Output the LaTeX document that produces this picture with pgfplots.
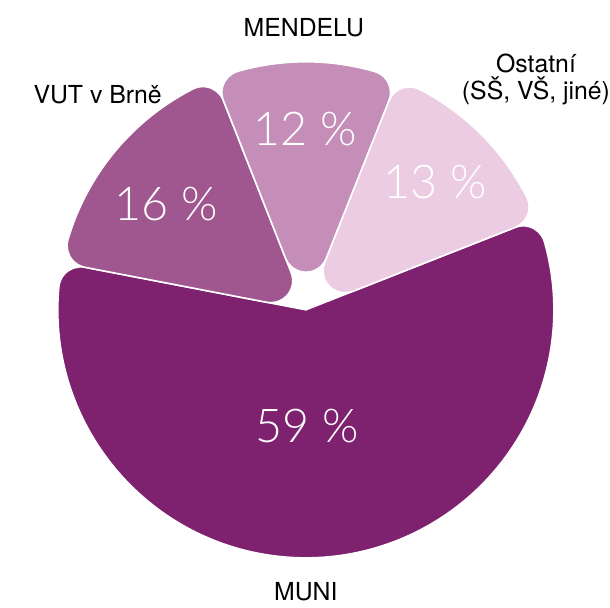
\documentclass[border=0pt]{standalone}
\usepackage{pgfplots}
\usepackage{pgfplotstable}
\pgfplotsset{compat=1.18}
\usepackage{fontspec}
\setmainfont{TeX Gyre Heros}
\newfontfamily\pctfont{Lato Light}

\definecolor{cMUNI}{HTML}{7E2270}
\definecolor{cVUT}{HTML}{A0578F}
\definecolor{cMEN}{HTML}{C48EB9}
\definecolor{cOST}{HTML}{ECCCE2}

\pgfplotstableread{
name value
Ostatni 13
MENDELU 12
VUT 16
MUNI 59
}\piedata

\pgfplotstablegetelem{0}{value}\of\piedata \let\vOST\pgfplotsretval
\pgfplotstablegetelem{1}{value}\of\piedata \let\vMEN\pgfplotsretval
\pgfplotstablegetelem{2}{value}\of\piedata \let\vVUT\pgfplotsretval
\pgfplotstablegetelem{3}{value}\of\piedata \let\vMUNI\pgfplotsretval

% pie geometry (axis units = bp)
\def\cx{307}\def\cy{299}\def\RR{249}\def\rr{22}
\pgfmathsetmacro\aOST{21.5}
\pgfmathsetmacro\bOST{\aOST+3.6*\vOST}
\pgfmathsetmacro\bMEN{\bOST+3.6*\vMEN}
\pgfmathsetmacro\bVUT{\bMEN+3.6*\vVUT}
\pgfmathsetmacro\bMUNI{\bVUT+3.6*\vMUNI}

\newcommand\slicecalc[2]{%
  \pgfmathsetmacro\sa{#1}%
  \pgfmathsetmacro\sb{#2}%
  \pgfmathsetmacro\hf{(\sb-\sa)/2}%
  \pgfmathsetmacro\dl{asin(\rr/(\RR-\rr))}%
  \pgfmathsetmacro\LL{(\RR-\rr)*cos(\dl)}%
  \pgfmathsetmacro\xe{\cx+\LL*cos(\sa)}%
  \pgfmathsetmacro\ye{\cy+\LL*sin(\sa)}%
  \pgfmathsetmacro\fa{\sa-90}%
  \pgfmathsetmacro\fb{\sa+\dl}%
  \pgfmathsetmacro\fc{\sb-\dl}%
  \pgfmathsetmacro\fd{\sb+90}%
  \pgfmathsetmacro\fe{\sa+270}%
}
% slice with rounded apex
\newcommand\makeslice[3]{%
  \slicecalc{#2}{#3}%
  \pgfmathsetmacro\dA{\rr/tan(\hf)}%
  \pgfmathsetmacro\xa{\cx+\dA*cos(\sa)}%
  \pgfmathsetmacro\ya{\cy+\dA*sin(\sa)}%
  \pgfmathsetmacro\xt{\cx+\dA*cos(\sb)}%
  \pgfmathsetmacro\yt{\cy+\dA*sin(\sb)}%
  \expandafter\xdef\csname slicepath#1\endcsname{(axis cs:\xa,\ya) -- (axis cs:\xe,\ye)
    arc[start angle=\fa, end angle=\fb, radius=\rr bp]
    arc[start angle=\fb, end angle=\fc, radius=\RR bp]
    arc[start angle=\fc, end angle=\fd, radius=\rr bp]
    -- (axis cs:\xt,\yt)
    arc[start angle=\fd, end angle=\fe, radius=\rr bp] -- cycle}%
}
% slice with sharp (reflex) apex
\newcommand\makebigslice[3]{%
  \slicecalc{#2}{#3}%
  \expandafter\xdef\csname slicepath#1\endcsname{(axis cs:\cx,\cy) -- (axis cs:\xe,\ye)
    arc[start angle=\fa, end angle=\fb, radius=\rr bp]
    arc[start angle=\fb, end angle=\fc, radius=\RR bp]
    arc[start angle=\fc, end angle=\fd, radius=\rr bp]
    -- cycle}%
}
\makeslice{OST}{\aOST}{\bOST}
\makeslice{MEN}{\bOST}{\bMEN}
\makeslice{VUT}{\bMEN}{\bVUT}
\makebigslice{MUNI}{\bVUT}{\bMUNI}

\begin{document}
\begin{tikzpicture}
\begin{axis}[x=1bp, y=1bp, xmin=0, xmax=607, ymin=0, ymax=610,
  hide axis, clip=false]
\path (axis cs:0,0) rectangle (axis cs:607,610);
\fill[cMUNI, draw=white, line width=1.6bp, line join=round] \slicepathMUNI;
\fill[cVUT, draw=white, line width=1.6bp, line join=round] \slicepathVUT;
\fill[cMEN, draw=white, line width=1.6bp, line join=round] \slicepathMEN;
\fill[cOST, draw=white, line width=1.6bp, line join=round] \slicepathOST;

\node[white, inner sep=0pt, font=\pctfont\fontsize{47}{52}\selectfont] at (axis cs:308,182) {\vMUNI{} \%};
\node[white, inner sep=0pt, font=\pctfont\fontsize{47}{52}\selectfont] at (axis cs:167,405) {\vVUT{} \%};
\node[white, inner sep=0pt, font=\pctfont\fontsize{47}{52}\selectfont] at (axis cs:306,480) {\vMEN{} \%};
\node[white, inner sep=0pt, font=\pctfont\fontsize{47}{52}\selectfont] at (axis cs:437,427) {\vOST{} \%};

\node[black, inner sep=0pt, font=\fontsize{25}{27}\selectfont] at (axis cs:305,582) {MENDELU};
\node[black, inner sep=0pt, font=\fontsize{25}{27}\selectfont] at (axis cs:98,515) {VUT v Brně};
\node[black, inner sep=0pt, font=\fontsize{25}{27}\selectfont, align=center] at (axis cs:538,530) {Ostatní\\(SŠ, VŠ, jiné)};
\node[black, inner sep=0pt, anchor=base, font=\fontsize{25}{27}\selectfont] at (axis cs:307,7) {MUNI};
\end{axis}
\end{tikzpicture}
\end{document}
